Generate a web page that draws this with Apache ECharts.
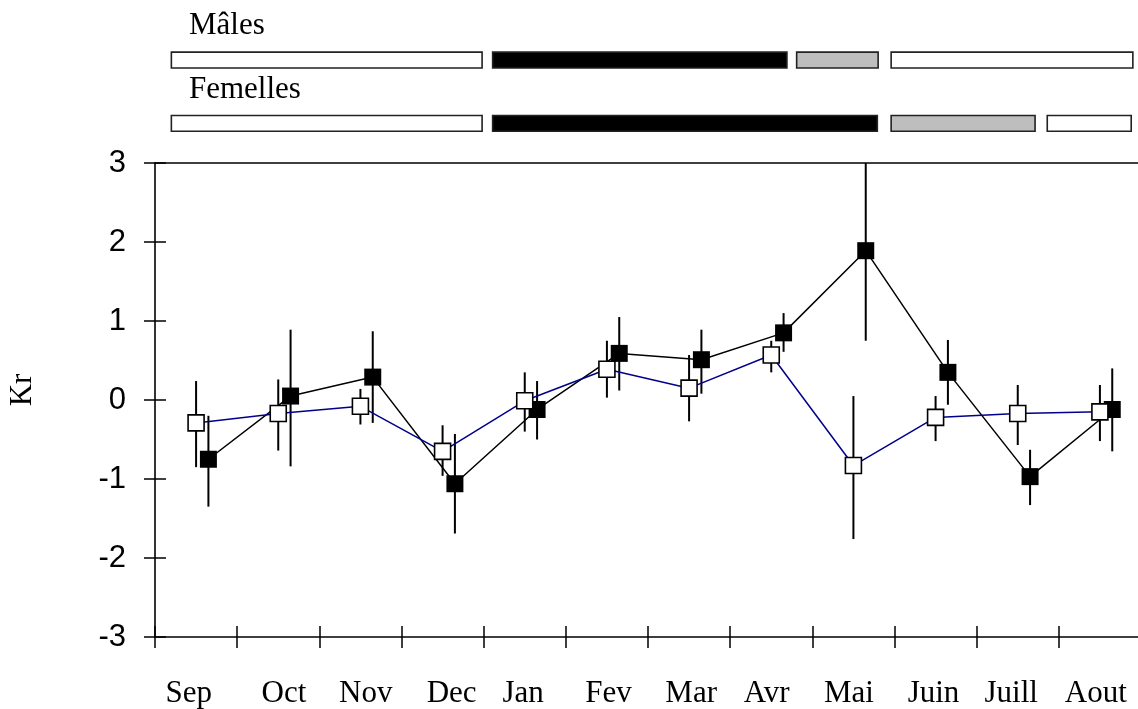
<!DOCTYPE html>
<html>
<head>
<meta charset="utf-8">
<script src="https://cdn.jsdelivr.net/npm/echarts@6/dist/echarts.min.js"></script>
<style>
  html, body { margin: 0; padding: 0; background: #fff; }
  #chart { width: 1138px; height: 709px; }
</style>
</head>
<body>
<div id="chart"></div>
<script>
// Month categories (Sep -> Aout)
const months = ['Sep', 'Oct', 'Nov', 'Dec', 'Jan', 'Fev', 'Mar', 'Avr', 'Mai', 'Juin', 'Juill', 'Aout'];
const yTickValues = [-3, -2, -1, 0, 1, 2, 3];

// Open squares (blue line): mean Kr and error-bar limits
const krOpen     = [-0.29, -0.17, -0.08, -0.65, -0.01, 0.39, 0.15, 0.57, -0.83, -0.22, -0.17, -0.15];
const krOpenLow  = [-0.85, -0.64, -0.31, -0.96, -0.40, 0.03, -0.27, 0.35, -1.76, -0.52, -0.57, -0.52];
const krOpenHigh = [0.24, 0.26, 0.14, -0.32, 0.35, 0.75, 0.57, 0.75, 0.05, 0.05, 0.19, 0.19];

// Filled squares (black line): mean Kr and error-bar limits
const krFilled     = [-0.75, 0.05, 0.29, -1.06, -0.12, 0.59, 0.51, 0.85, 1.89, 0.35, -0.97, -0.12];
const krFilledLow  = [-1.35, -0.84, -0.29, -1.69, -0.50, 0.12, 0.08, 0.61, 0.75, -0.06, -1.33, -0.65];
const krFilledHigh = [-0.20, 0.89, 0.87, -0.43, 0.24, 1.05, 0.89, 1.10, 3.02, 0.76, -0.63, 0.40];

// Reproductive stage periods per sex: [start month, end month, stage]
const stageRows = ['Mâles', 'Femelles'];
const malePeriods   = [[0.19, 3.99, 0], [4.10, 7.70, 1], [7.80, 8.81, 2], [8.95, 11.91, 0]];
const femalePeriods = [[0.19, 3.99, 0], [4.10, 8.80, 1], [8.95, 10.72, 2], [10.85, 11.89, 0]];

// ---- styling / layout ----
const stageFill = ['#ffffff', '#000000', '#bebebe'];
const OPEN_SHIFT = 0.5;     // open squares sit mid-month
const FILLED_SHIFT = 0.65;  // filled squares drawn slightly to the right
// small horizontal nudges of the month labels (in months)
const labelNudge = [-0.09, 0.07, 0.065, 0.11, -0.02, 0.02, 0.025, -0.055, -0.055, -0.025, -0.08, -0.05];
const labelPos = months.map((m, i) => i + 0.5 + labelNudge[i]);

const SERIF = '"Liberation Serif", "Times New Roman", serif';
const SANS = '"Liberation Sans", Arial, sans-serif';

const chart = echarts.init(document.getElementById('chart'), null, { renderer: 'canvas' });

function errorBars(low, high, shift) {
  return {
    type: 'custom',
    xAxisIndex: 0, yAxisIndex: 0,
    clip: true, silent: true, animation: false,
    encode: { x: 0, y: [1, 2] },
    data: low.map((l, i) => [i + shift, l, high[i]]),
    renderItem(params, api) {
      const a = api.coord([api.value(0), api.value(1)]);
      const b = api.coord([api.value(0), api.value(2)]);
      return {
        type: 'line',
        shape: { x1: a[0], y1: a[1], x2: b[0], y2: b[1] },
        style: { stroke: '#000', lineWidth: 2 }
      };
    }
  };
}

const periodData = [];
malePeriods.forEach(p => periodData.push([p[0], p[1], 0, p[2]]));
femalePeriods.forEach(p => periodData.push([p[0], p[1], 1, p[2]]));

const option = {
  backgroundColor: '#fff',
  animation: false,
  grid: [
    // the month scale runs slightly past the right edge of the canvas
    { left: 155, top: 163, width: 986, height: 474, outerBoundsMode: 'none' },
    { left: 155, top: 28.4, width: 986, height: 126.6, outerBoundsMode: 'none' }
  ],
  xAxis: [
    { // bottom axis line with outward ticks
      type: 'value', gridIndex: 0, min: 0, max: 12, interval: 1, position: 'bottom',
      axisLine: { show: true, onZero: false, lineStyle: { color: '#000', width: 1.6 } },
      axisTick: { show: true, inside: false, length: 11, lineStyle: { color: '#000', width: 1.5 } },
      axisLabel: { show: false }, splitLine: { show: false }
    },
    { // inward half of the crossing ticks
      type: 'value', gridIndex: 0, min: 0, max: 12, interval: 1, position: 'bottom',
      axisLine: { show: false, onZero: false },
      axisTick: { show: true, inside: true, length: 11, lineStyle: { color: '#000', width: 1.5 } },
      axisLabel: { show: false }, splitLine: { show: false }
    },
    { // top border
      type: 'value', gridIndex: 0, min: 0, max: 12, position: 'top',
      axisLine: { show: true, onZero: false, lineStyle: { color: '#000', width: 1.6 } },
      axisTick: { show: false }, axisLabel: { show: false }, splitLine: { show: false }
    },
    { // month labels
      type: 'value', gridIndex: 0, min: 0, max: 12, position: 'bottom',
      axisLine: { show: false, onZero: false }, axisTick: { show: false }, splitLine: { show: false },
      axisLabel: {
        show: true, customValues: labelPos, margin: 41,
        fontFamily: SERIF, fontSize: 31, color: '#000',
        formatter: v => months[Math.floor(v)]
      }
    },
    { // stage bars
      type: 'value', gridIndex: 1, min: 0, max: 12, show: false
    }
  ],
  yAxis: [
    {
      type: 'value', gridIndex: 0, min: -3, max: 3, interval: 1, position: 'left',
      name: 'Kr', nameLocation: 'middle', nameRotate: 90, nameGap: 117,
      nameTextStyle: { fontFamily: SERIF, fontSize: 31, color: '#000', padding: [0, 0, 0, 20] },
      axisLine: { show: true, onZero: false, lineStyle: { color: '#000', width: 1.6 } },
      axisTick: { show: true, inside: false, length: 11, lineStyle: { color: '#000', width: 1.5 } },
      axisLabel: {
        show: true, margin: 29, fontFamily: SANS, fontSize: 31, color: '#000',
        customValues: yTickValues
      },
      splitLine: { show: false }
    },
    {
      type: 'value', gridIndex: 0, min: -3, max: 3, interval: 1, position: 'left',
      axisLine: { show: false, onZero: false },
      axisTick: { show: true, inside: true, length: 11, lineStyle: { color: '#000', width: 1.5 } },
      axisLabel: { show: false }, splitLine: { show: false }
    },
    {
      type: 'value', gridIndex: 1, min: -0.5, max: 1.5, inverse: true, show: false
    }
  ],
  graphic: [
    { type: 'text', left: 189, top: 10, style: { text: stageRows[0], font: '31px ' + SERIF, fill: '#000' } },
    { type: 'text', left: 189, top: 74, style: { text: stageRows[1], font: '31px ' + SERIF, fill: '#000' } }
  ],
  series: [
    {
      type: 'custom', xAxisIndex: 4, yAxisIndex: 2, silent: true, animation: false,
      encode: { x: [0, 1], y: 2 },
      data: periodData,
      renderItem(params, api) {
        const p0 = api.coord([api.value(0), api.value(2)]);
        const p1 = api.coord([api.value(1), api.value(2)]);
        const h = api.size([0, 1])[1] * 0.25;
        return {
          type: 'rect',
          shape: { x: p0[0] + 0.75, y: p0[1] - h / 2, width: p1[0] - p0[0] - 1.5, height: h },
          style: { fill: stageFill[api.value(3)], stroke: '#222', lineWidth: 1.6 }
        };
      }
    },
    errorBars(krFilledLow, krFilledHigh, FILLED_SHIFT),
    {
      type: 'line', xAxisIndex: 0, yAxisIndex: 0, silent: true, animation: false,
      data: krFilled.map((v, i) => [i + FILLED_SHIFT, v]),
      symbol: 'rect', symbolSize: 17, showAllSymbol: true,
      itemStyle: { color: '#000' },
      lineStyle: { color: '#000', width: 1.5 },
      emphasis: { disabled: true }
    },
    errorBars(krOpenLow, krOpenHigh, OPEN_SHIFT),
    {
      type: 'line', xAxisIndex: 0, yAxisIndex: 0, silent: true, animation: false,
      data: krOpen.map((v, i) => [i + OPEN_SHIFT, v]),
      symbol: 'rect', symbolSize: 16, showAllSymbol: true,
      itemStyle: { color: '#fff', borderColor: '#000', borderWidth: 1.6 },
      lineStyle: { color: '#00008b', width: 1.5 },
      emphasis: { disabled: true }
    }
  ]
};

chart.setOption(option);
</script>
</body>
</html>
